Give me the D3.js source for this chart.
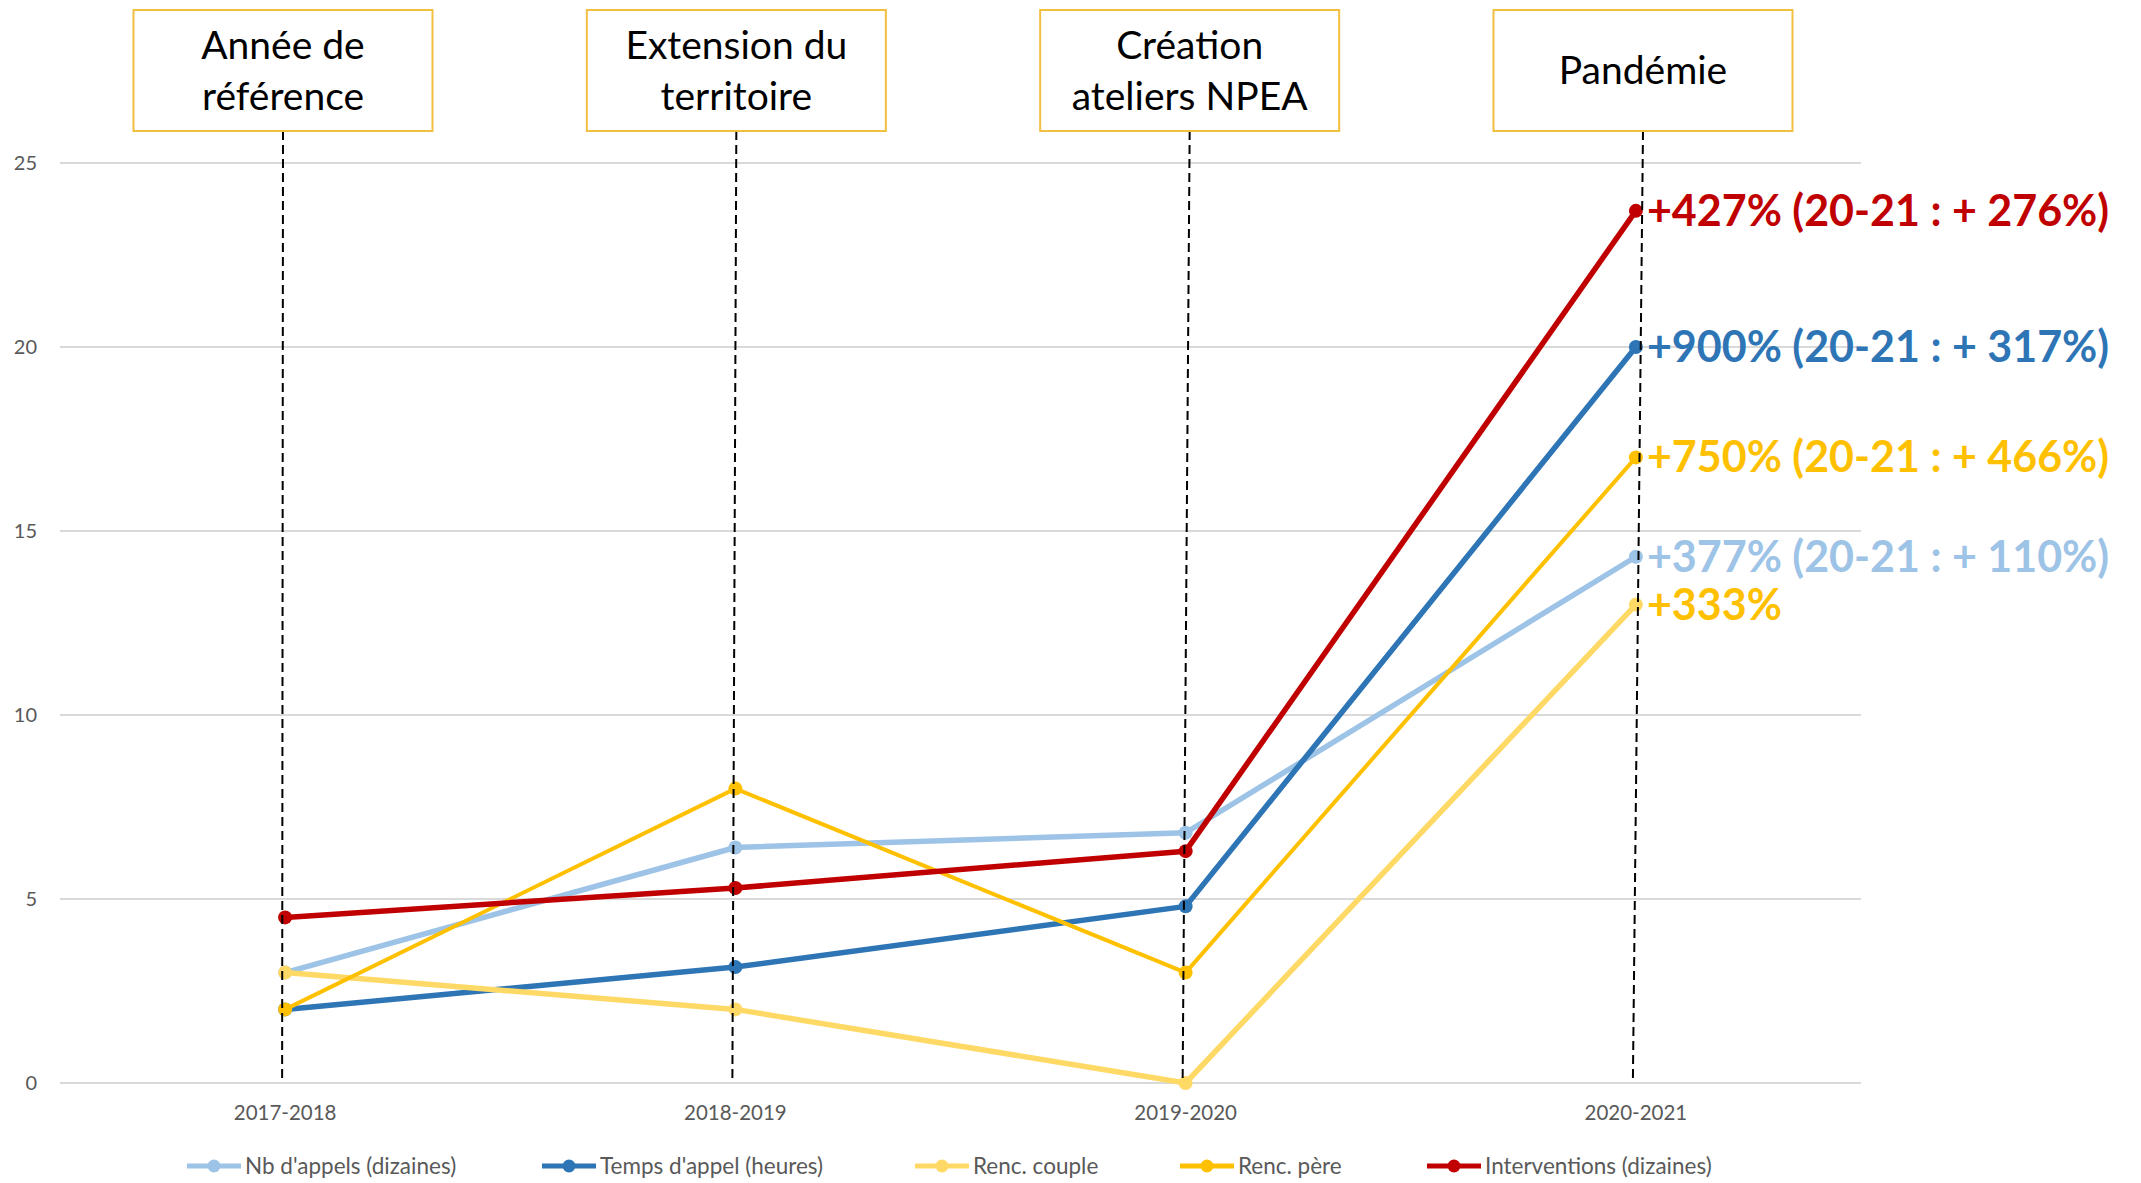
<!DOCTYPE html>
<meta charset="utf-8">
<script src="https://d3js.org/d3.v7.js"></script>
<style>
  body { margin: 0; background: #fff; }
  text { font-family: Lato, "Open Sans", sans-serif; }
</style>
<svg id="chart" width="2141" height="1183"></svg>

<script>
  // --- data
  const years = ["2017-2018", "2018-2019", "2019-2020", "2020-2021"];
  const events = [["Année de", "référence"], ["Extension du", "territoire"], ["Création", "ateliers NPEA"], ["Pandémie"]];

  const seriesNames = ["Nb d'appels (dizaines)", "Temps d'appel (heures)", "Renc. couple", "Renc. père", "Interventions (dizaines)"];
  const nbAppels = [3, 6.4, 6.8, 14.3];
  const tempsAppel = [2, 3.15, 4.8, 20];
  const rencCouple = [3, 2, 0, 13];
  const rencPere = [2, 8, 3, 17];
  const interventions = [4.5, 5.3, 6.3, 23.7];
  const seriesColors = ["#9DC3E6", "#2E75B6", "#FFD966", "#FFC000", "#C00000"];
  const seriesWidths = [5.5, 5.5, 5.5, 4, 5.5];

  const endLabels = ["+377% (20-21 : + 110%)", "+900% (20-21 : + 317%)", "+333%", "+750% (20-21 : + 466%)", "+427% (20-21 : + 276%)"];
  const endLabelColors = ["#9DC3E6", "#2E75B6", "#FFC000", "#FFC000", "#C00000"];

  const yTicks = [0, 5, 10, 15, 20, 25];

  const series = [nbAppels, tempsAppel, rencCouple, rencPere, interventions].map((v, i) => ({
    name: seriesNames[i], values: v, color: seriesColors[i], width: seriesWidths[i],
    label: endLabels[i], labelColor: endLabelColors[i]
  }));

  // --- layout
  const svg = d3.select("#chart");
  const plot = { left: 60, right: 1861, top: 163, bottom: 1083 };

  const x = d3.scaleBand().domain(years).range([plot.left, plot.right]).padding(0);
  const cx = d => x(d) + x.bandwidth() / 2;
  const y = d3.scaleLinear().domain([0, 25]).range([plot.bottom, plot.top]);

  // the event boxes sit a bit wider apart than the categories
  const boxX = d3.scalePoint().domain(years).range([283, 1643]);

  // gridlines
  svg.append("g")
    .selectAll("line")
    .data(yTicks)
    .join("line")
    .attr("x1", plot.left)
    .attr("x2", plot.right)
    .attr("y1", d => y(d))
    .attr("y2", d => y(d))
    .attr("stroke", "#D9D9D9")
    .attr("stroke-width", 2);

  // y tick labels
  svg.append("g")
    .selectAll("text")
    .data(yTicks)
    .join("text")
    .attr("x", 37)
    .attr("y", d => y(d))
    .attr("dy", "0.35em")
    .attr("text-anchor", "end")
    .attr("font-size", 20)
    .attr("fill", "#595959")
    .text(d => d);

  // x tick labels
  svg.append("g")
    .selectAll("text")
    .data(years)
    .join("text")
    .attr("x", d => cx(d))
    .attr("y", 1113)
    .attr("dy", "0.35em")
    .attr("text-anchor", "middle")
    .attr("font-size", 20.5)
    .attr("fill", "#595959")
    .text(d => d);

  // series lines + markers
  const line = d3.line()
    .x((d, i) => cx(years[i]))
    .y(d => y(d));

  series.forEach(s => {
    svg.append("path")
      .datum(s.values)
      .attr("d", line)
      .attr("fill", "none")
      .attr("stroke", s.color)
      .attr("stroke-width", s.width)
      .attr("stroke-linejoin", "round");

    svg.append("g")
      .selectAll("circle")
      .data(s.values)
      .join("circle")
      .attr("cx", (d, i) => cx(years[i]))
      .attr("cy", d => y(d))
      .attr("r", 7)
      .attr("fill", s.color);
  });

  // event boxes with dashed drop lines
  const boxW = 299, boxH = 121, boxTop = 10;
  const ev = svg.append("g")
    .selectAll("g")
    .data(years)
    .join("g");

  ev.append("line")
    .attr("x1", d => boxX(d))
    .attr("x2", d => cx(d) - 3)
    .attr("y1", boxTop + boxH)
    .attr("y2", plot.bottom)
    .attr("stroke", "#000")
    .attr("stroke-width", 2)
    .attr("stroke-dasharray", "9,5");

  ev.append("rect")
    .attr("x", d => boxX(d) - boxW / 2)
    .attr("y", boxTop)
    .attr("width", boxW)
    .attr("height", boxH)
    .attr("fill", "#fff")
    .attr("stroke", "#F2C040")
    .attr("stroke-width", 2);

  ev.each(function (d, i) {
    const lines = events[i];
    const t = d3.select(this).append("text")
      .attr("text-anchor", "middle")
      .attr("font-size", 39)
      .attr("fill", "#000");
    const mid = boxTop + boxH / 2;
    const lh = 51;
    lines.forEach((l, j) => {
      t.append("tspan")
        .attr("x", boxX(d))
        .attr("y", mid + (j - (lines.length - 1) / 2) * lh)
        .attr("dy", "0.35em")
        .text(l);
    });
  });

  // end-of-line annotations
  svg.append("g")
    .selectAll("text")
    .data(series)
    .join("text")
    .attr("x", cx(years[3]) + 11)
    .attr("y", d => y(d.values[3]))
    .attr("dy", "0.35em")
    .attr("font-size", 43)
    .attr("font-weight", "bold")
    .attr("fill", d => d.labelColor)
    .text(d => d.label);

  // legend
  const legendX = [187, 542, 915, 1180, 1427];
  const lg = svg.append("g")
    .selectAll("g")
    .data(series)
    .join("g")
    .attr("transform", (d, i) => `translate(${legendX[i]},1166)`);

  lg.append("line")
    .attr("x1", 0).attr("x2", 54)
    .attr("stroke", d => d.color)
    .attr("stroke-width", 5);
  lg.append("circle")
    .attr("cx", 27)
    .attr("r", 6.5)
    .attr("fill", d => d.color);
  lg.append("text")
    .attr("x", 58)
    .attr("dy", "0.35em")
    .attr("font-size", 22.5)
    .attr("fill", "#595959")
    .text(d => d.name);
</script>
